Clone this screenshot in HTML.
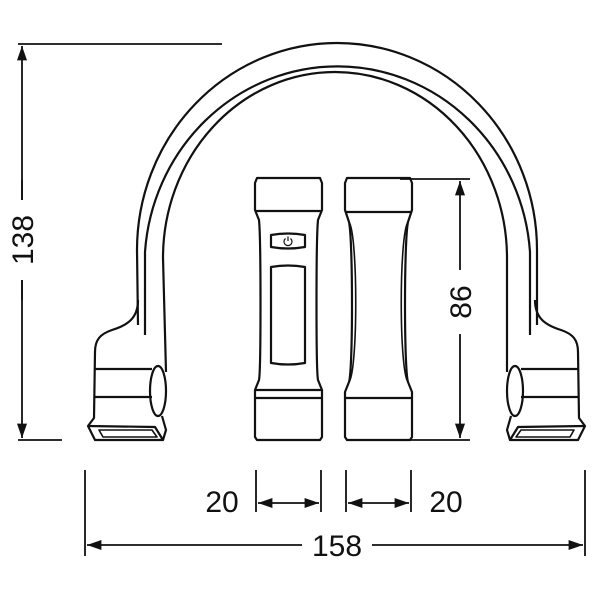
<!DOCTYPE html>
<html><head><style>body{margin:0;background:#fff}svg{display:block}</style></head><body>
<svg width="600" height="600" viewBox="0 0 600 600" xmlns="http://www.w3.org/2000/svg">
<defs><marker id="a" viewBox="0 0 10 10" refX="10" refY="5" markerWidth="8" markerHeight="8" orient="auto-start-reverse"><path d="M0 1.5 L10 5 L0 8.5 z" fill="#111"/></marker></defs>
<g fill="none" stroke="#111" stroke-width="2.2" stroke-linejoin="round">
<path d="M138 325 L137 250 A200 207 0 0 1 537 250 L537 325"/>
<path d="M145 335 L145 252 A193 200 0 0 1 530 252 L530 335"/>
<path d="M166 372 L163 258 A172 186 0 0 1 507 258 L507 372"/>
<g id="end">
<path d="M138 300 C138 318 128 325 112 330 C100 334 95 340 95 352 L94 418 L88 426 L95 440 L163 440 L166 430 L162 416"/>
<path d="M88 426 L155 427 L163 440"/>
<path d="M99 430 L152 430 L157 437 L103 437 Z" stroke-width="1.6"/>
<path d="M94 369 L152 369 M94 397 L152 397"/>
<ellipse cx="158" cy="391" rx="8" ry="25"/>
</g>
<use href="#end" transform="translate(673,0) scale(-1,1)"/>
<path d="M257 178 L320 178 L322 183 L322 210 L318 220 C316 240 316 370 318 380 L322 390 L322 437 L320 440 L257 440 L255 437 L255 390 L259 380 C261 370 261 240 259 220 L255 210 L255 183 Z"/>
<path d="M255 211 L322 211 M255 390 L322 390 M256 398 L321 398"/>
<path d="M271 235 Q288 232 305 235 L305 247 Q288 250 271 247 Z"/>
<path d="M285.5 238.5 A4 4 0 1 0 290.5 238.5 M288 236.5 L288 241" stroke-width="1.2"/>
<path d="M271 267 Q288 264 305 267 L305 363 Q288 366 271 363 Z"/>
<path d="M347 178 L410 178 L412 183 L412 210 L408 222 C404 240 404 370 408 382 L412 392 L412 437 L410 440 L347 440 L345 437 L345 392 L349 382 C353 370 353 240 349 222 L345 210 L345 183 Z"/>
<path d="M345 212 L412 212 M345 398 L412 398"/>
<path d="M349 222 C358 235 358 370 349 382 M408 222 C399 235 399 370 408 382" stroke-width="1.6"/>
<g stroke-width="1.8">
<path d="M18 44 L222 44 M18 440 L62 440 M400 179 L470 179 M400 440 L470 440"/>
<path d="M256 470 L256 512 M321 470 L321 512 M346 470 L346 512 M411 470 L411 512 M85 470 L85 556 M585 470 L585 556"/>
<path d="M22 300 L22 46" marker-end="url(#a)"/>
<path d="M22 180 L22 438" marker-end="url(#a)"/>
<path d="M460 300 L460 181" marker-end="url(#a)"/>
<path d="M460 300 L460 438" marker-end="url(#a)"/>
<path d="M288 503 L258 503" marker-end="url(#a)"/>
<path d="M288 503 L319 503" marker-end="url(#a)"/>
<path d="M378 503 L348 503" marker-end="url(#a)"/>
<path d="M378 503 L409 503" marker-end="url(#a)"/>
<path d="M300 545 L87 545" marker-end="url(#a)"/>
<path d="M300 545 L583 545" marker-end="url(#a)"/>
</g>
</g>
<g font-family="Liberation Sans, sans-serif" font-size="30" fill="#111" text-anchor="middle">
<rect x="8" y="200" width="30" height="80" fill="#fff"/>
<text transform="translate(33,240) rotate(-90)">138</text>
<rect x="445" y="270" width="30" height="64" fill="#fff"/>
<text transform="translate(471,302) rotate(-90)">86</text>
<text x="222" y="512">20</text>
<text x="446" y="512">20</text>
<rect x="302" y="530" width="70" height="30" fill="#fff"/>
<text x="337" y="556">158</text>
</g>
</svg>
</body></html>
